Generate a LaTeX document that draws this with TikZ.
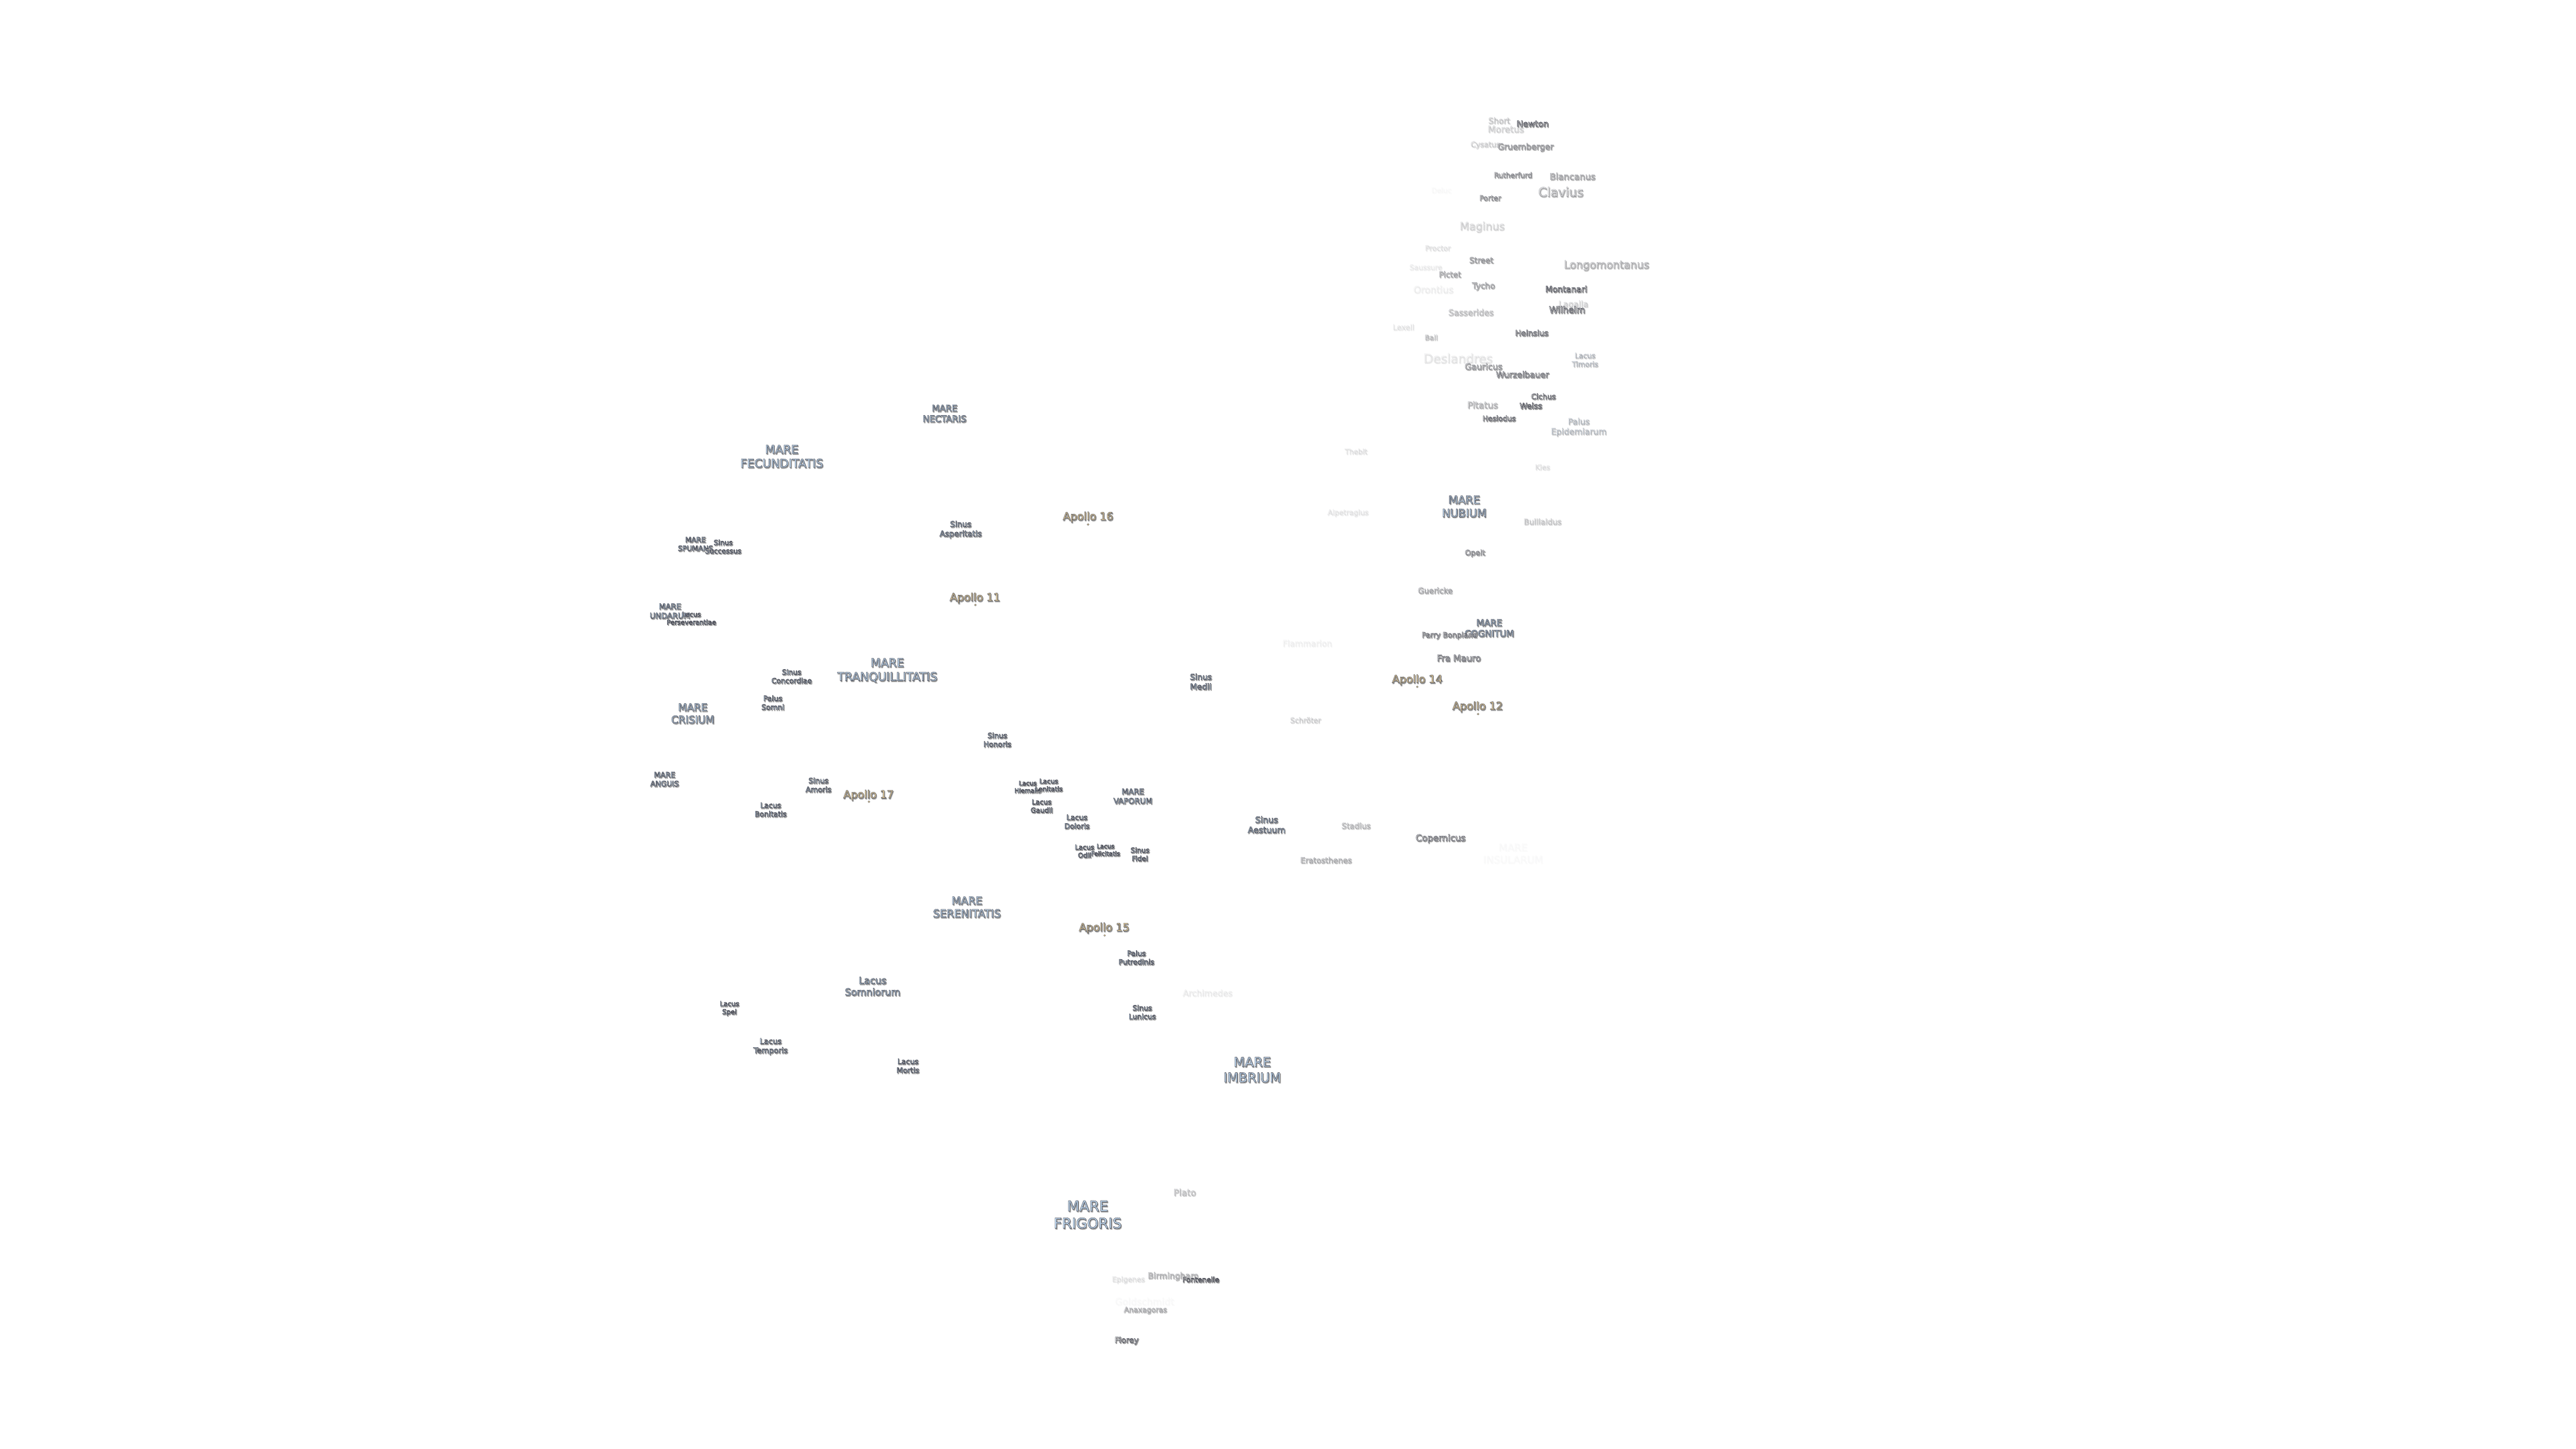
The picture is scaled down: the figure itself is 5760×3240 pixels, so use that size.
\documentclass[tikz,border=0pt]{standalone}
\usepackage{fontspec}
\setmainfont{DejaVu Sans}
\definecolor{mb}{HTML}{C6E0F8}
\definecolor{cr}{HTML}{FAFAFA}
\definecolor{ap}{HTML}{FCE0A4}
\definecolor{shd}{HTML}{8E8E8E}
\newsavebox\lbsh
\newsavebox\lbmain
\newcommand\lbcore[1]{\begin{tabular}{@{}c@{}}#1\end{tabular}}
% name, x, y, size in px, opacity, fill colour, text
\newcommand\lbl[7]{%
  \begin{scope}[opacity=#5]
  \node[lbltext] (#1) at (#2,{#3+0.1*#4}) {%
    \pgfmathsetmacro\lbfs{#4*0.25}\pgfmathsetmacro\lbbs{#4*0.3}%
    \fontsize{\lbfs pt}{\lbbs pt}\selectfont
    \sbox\lbsh{\color{shd}\special{pdf:code 2 Tr 0.34 w 0.62 0.62 0.62 RG}\lbcore{#7}\special{pdf:code 0 Tr 0.4 w}}%
    \sbox\lbmain{\color{#6}\special{pdf:code 2 Tr 0.19 w 0.27 0.28 0.32 RG}\lbcore{#7}\special{pdf:code 0 Tr 0.4 w}}%
    \rlap{\kern0.4pt\lower0.55pt\hbox{\usebox\lbsh}}\usebox\lbmain};
  \end{scope}}
\tikzset{
  lbltext/.style={inner sep=0pt,outer sep=0pt},
  apdot/.style={circle,inner sep=0pt,minimum size=1pt,fill=ap,draw=black!70,line width=0.15pt}
}
\begin{document}
\begin{tikzpicture}[x=0.25pt,y=-0.25pt]
\useasboundingbox (0,0) rectangle (5760,3240);
\fill[white] (0,0) rectangle (5760,3240);
% craters, south
\lbl{short}{3352}{271}{18}{.25}{cr}{Short}
\lbl{moretus}{3367}{290}{20}{.2}{cr}{Moretus}
\lbl{newton}{3427}{278}{18.7}{1}{cr}{Newton}
\lbl{cysatus}{3321}{324}{16.5}{.2}{cr}{Cysatus}
\lbl{gruemberger}{3411}{329}{18.6}{.6}{cr}{Gruemberger}
\lbl{rutherfurd}{3383}{393}{16}{.6}{cr}{Rutherfurd}
\lbl{blancanus}{3516}{396}{19.8}{.5}{cr}{Blancanus}
\lbl{clavius}{3490}{431}{28}{.5}{cr}{Clavius}
\lbl{deluc}{3223}{427}{15.5}{.02}{cr}{Deluc}
\lbl{porter}{3332}{444}{16}{.6}{cr}{Porter}
\lbl{maginus}{3314}{507}{24}{.2}{cr}{Maginus}
\lbl{proctor}{3215}{556}{16}{.12}{cr}{Proctor}
\lbl{street}{3312}{583}{17.6}{.55}{cr}{Street}
\lbl{longomontanus}{3592}{593}{23.7}{.45}{cr}{Longomontanus}
\lbl{saussure}{3188}{599}{16}{.08}{cr}{Saussure}
\lbl{pictet}{3242}{615}{17.5}{.45}{cr}{Pictet}
\lbl{tycho}{3317}{640}{18}{.5}{cr}{Tycho}
\lbl{orontius}{3205}{649}{21}{.07}{cr}{Orontius}
\lbl{montanari}{3502}{648}{18.5}{1}{cr}{Montanari}
\lbl{lagalla}{3518}{681}{18.5}{.2}{cr}{Lagalla}
\lbl{wilhelm}{3504}{694}{20}{1}{cr}{Wilhelm}
\lbl{sasserides}{3289}{700}{18.8}{.3}{cr}{Sasserides}
\lbl{lexell}{3138}{733}{16.7}{.1}{cr}{Lexell}
\lbl{ball}{3200}{756}{15.6}{.3}{cr}{Ball}
\lbl{heinsius}{3425}{746}{17.5}{.85}{cr}{Heinsius}
\lbl{deslandres}{3260}{803}{27.6}{.12}{cr}{Deslandres}
\lbl{timoris}{3544}{806}{16}{.3}{mb}{Lacus\\Timoris}
\lbl{gauricus}{3317}{821}{19}{.6}{cr}{Gauricus}
\lbl{wurzelbauer}{3404}{839}{18.7}{.8}{cr}{Wurzelbauer}
\lbl{cichus}{3451}{888}{16.6}{.85}{cr}{Cichus}
\lbl{pitatus}{3315}{907}{20}{.4}{cr}{Pitatus}
\lbl{weiss}{3423}{909}{17.5}{1}{cr}{Weiss}
\lbl{hesiodus}{3352}{937}{16.2}{.85}{cr}{Hesiodus}
\lbl{epidemiarum}{3530}{955}{18.6}{.3}{mb}{Palus\\Epidemiarum}
\lbl{thebit}{3032}{1011}{15.8}{.12}{cr}{Thebit}
\lbl{kies}{3449}{1046}{16}{.12}{cr}{Kies}
\lbl{nubium}{3274}{1134}{24.6}{1}{mb}{MARE\\NUBIUM}
\lbl{alpetragius}{3014}{1147}{16}{.1}{cr}{Alpetragius}
\lbl{bullialdus}{3449}{1168}{17.4}{.25}{cr}{Bullialdus}
\lbl{opelt}{3298}{1237}{16.6}{.65}{cr}{Opelt}
\lbl{guericke}{3209}{1322}{17.5}{.45}{cr}{Guericke}
\lbl{cognitum}{3330}{1406}{20}{1}{mb}{MARE\\COGNITUM}
\lbl{parry}{3241}{1421}{16.3}{.75}{cr}{Parry Bonpland}
\lbl{flammarion}{2923}{1440}{18.5}{.06}{cr}{Flammarion}
\lbl{framauro}{3262}{1473}{19.8}{.85}{cr}{Fra Mauro}
\lbl{schroter}{2919}{1612}{16.2}{.2}{cr}{Schröter}
% apollo sites
\lbl{apollof}{3169}{1520}{24}{1}{ap}{Apollo 14}
\node[apdot] (apollofdot) at (3169,1536) {};
\lbl{apollot}{3304}{1580}{24}{1}{ap}{Apollo 12}
\node[apdot] (apollotdot) at (3305,1597) {};
\lbl{apollos}{2433}{1156}{24}{1}{ap}{Apollo 16}
\node[apdot] (apollosdot) at (2433,1173) {};
\lbl{apolloe}{2180}{1337}{24}{1}{ap}{Apollo 11}
\node[apdot] (apolloedot) at (2181,1353) {};
\lbl{apollon}{1942}{1778}{24}{1}{ap}{Apollo 17}
\node[apdot] (apollondot) at (1943,1793) {};
\lbl{apollov}{2469}{2075}{24}{1}{ap}{Apollo 15}
\node[apdot] (apollovdot) at (2470,2092) {};
% seas and lakes
\lbl{nectaris}{2112}{926}{19.8}{1}{mb}{MARE\\NECTARIS}
\lbl{fecunditatis}{1748}{1022}{26}{1}{mb}{MARE\\FECUNDITATIS}
\lbl{asperitatis}{2148}{1184}{17.6}{1}{mb}{Sinus\\Asperitatis}
\lbl{spumans}{1555}{1218}{16}{1}{mb}{MARE\\SPUMANS}
\lbl{successus}{1617}{1224}{15.6}{1}{mb}{Sinus\\Successus}
\lbl{undarum}{1498}{1368}{17.4}{1}{mb}{MARE\\UNDARUM}
\lbl{perseverantiae}{1546}{1384}{14.7}{1}{mb}{Lacus\\Perseverantiae}
\lbl{tranquillitatis}{1984}{1499}{26}{1}{mb}{MARE\\TRANQUILLITATIS}
\lbl{concordiae}{1770}{1514}{16}{1}{mb}{Sinus\\Concordiae}
\lbl{somni}{1728}{1573}{16.3}{1}{mb}{Palus\\Somni}
\lbl{crisium}{1549}{1597}{22.9}{1}{mb}{MARE\\CRISIUM}
\lbl{honoris}{2230}{1656}{16.2}{1}{mb}{Sinus\\Honoris}
\lbl{medii}{2685}{1526}{18}{1}{mb}{Sinus\\Medii}
\lbl{anguis}{1486}{1744}{16.5}{1}{mb}{MARE\\ANGUIS}
\lbl{amoris}{1830}{1757}{16.5}{1}{mb}{Sinus\\Amoris}
\lbl{bonitatis}{1723}{1812}{16.2}{1}{mb}{Lacus\\Bonitatis}
\lbl{hiemalis}{2298}{1761}{13.8}{1}{mb}{Lacus\\Hiemalis}
\lbl{lenitatis}{2345}{1757}{14.5}{1}{mb}{Lacus\\Lenitatis}
\lbl{gaudii}{2329}{1804}{15.3}{1}{mb}{Lacus\\Gaudii}
\lbl{vaporum}{2533}{1782}{17.4}{1}{mb}{MARE\\VAPORUM}
\lbl{doloris}{2408}{1839}{16.2}{1}{mb}{Lacus\\Doloris}
\lbl{aestuum}{2832}{1846}{18.9}{1}{mb}{Sinus\\Aestuum}
\lbl{odii}{2425}{1905}{15}{1}{mb}{Lacus\\Odii}
\lbl{felicitatis}{2472}{1902}{13.7}{1}{mb}{Lacus\\Felicitatis}
\lbl{fidei}{2549}{1912}{15.5}{1}{mb}{Sinus\\Fidei}
\lbl{serenitatis}{2162}{2030}{24}{1}{mb}{MARE\\SERENITATIS}
\lbl{putredinis}{2541}{2143}{16}{1}{mb}{Palus\\Putredinis}
\lbl{lunicus}{2554}{2265}{16}{1}{mb}{Sinus\\Lunicus}
\lbl{imbrium}{2800}{2394}{29}{1}{mb}{MARE\\IMBRIUM}
\lbl{somniorum}{1951}{2207}{21.5}{1}{mb}{Lacus\\Somniorum}
\lbl{spei}{1631}{2255}{15}{1}{mb}{Lacus\\Spei}
\lbl{temporis}{1723}{2340}{17}{1}{mb}{Lacus\\Temporis}
\lbl{mortis}{2030}{2385}{16.4}{1}{mb}{Lacus\\Mortis}
\lbl{frigoris}{2432}{2718}{32}{1}{mb}{MARE\\FRIGORIS}
\lbl{insularum}{3383}{1910}{22.4}{.015}{mb}{MARE\\INSULARUM}
% craters, north
\lbl{stadius}{3032}{1848}{17.5}{.35}{cr}{Stadius}
\lbl{copernicus}{3221}{1875}{20}{.85}{cr}{Copernicus}
\lbl{eratosthenes}{2965}{1925}{17.4}{.4}{cr}{Eratosthenes}
\lbl{archimedes}{2700}{2222}{18.8}{.08}{cr}{Archimedes}
\lbl{plato}{2649}{2668}{20}{.3}{cr}{Plato}
\lbl{birmingham}{2623}{2854}{18.6}{.4}{cr}{Birmingham}
\lbl{fontenelle}{2685}{2863}{15.8}{1}{cr}{Fontenelle}
\lbl{epigenes}{2523}{2862}{16}{.12}{cr}{Epigenes}
\lbl{goldschmidt}{2559}{2912}{21}{.02}{cr}{Goldschmidt}
\lbl{anaxagoras}{2561}{2930}{16.2}{.4}{cr}{Anaxagoras}
\lbl{florey}{2519}{2998}{17.5}{.95}{cr}{Florey}
\end{tikzpicture}
\end{document}
